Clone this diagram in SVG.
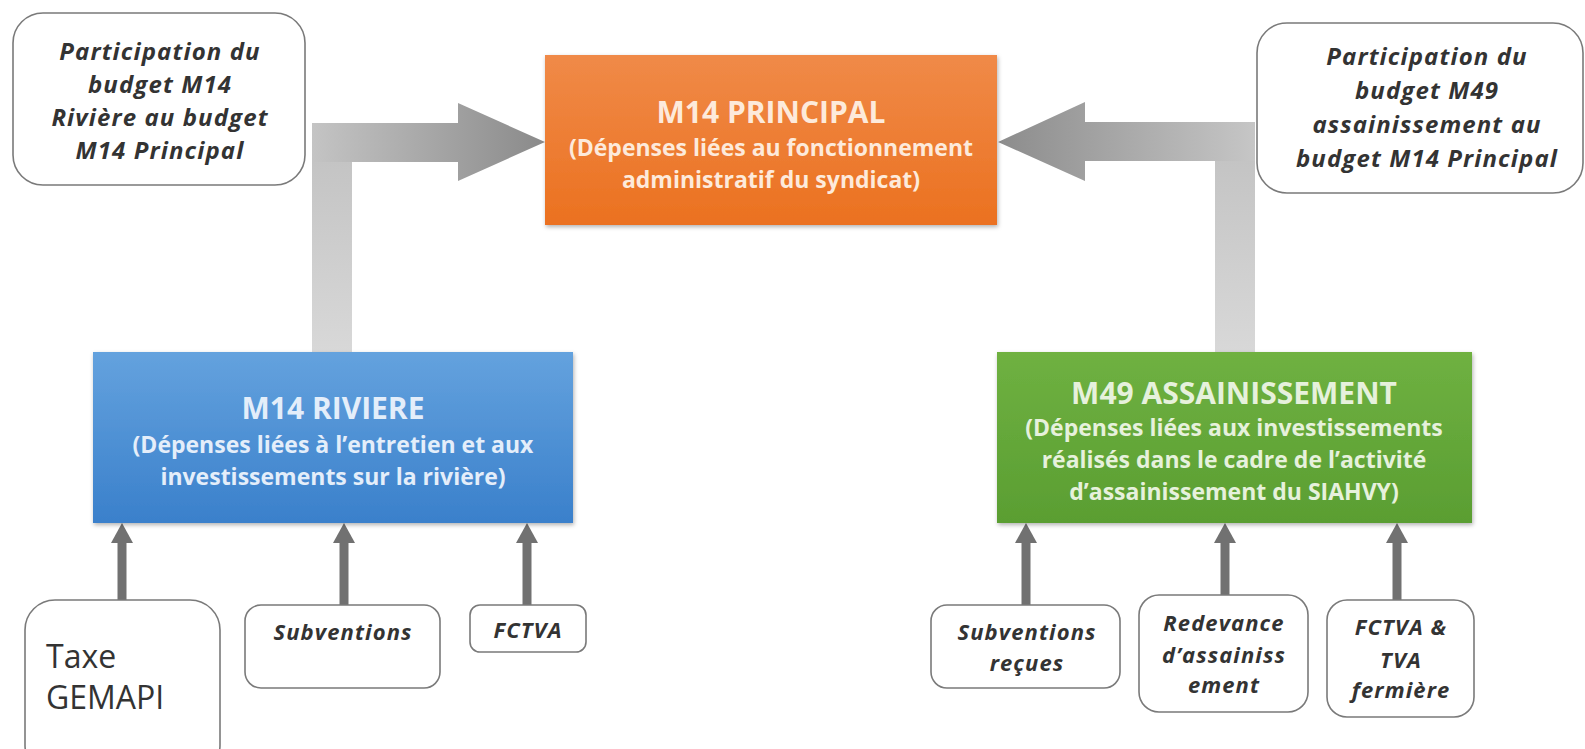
<svg xmlns="http://www.w3.org/2000/svg" width="1585" height="749" viewBox="0 0 1585 749">
<defs>
<linearGradient id="gOrange" x1="0" y1="0" x2="0" y2="1"><stop offset="0" stop-color="#f08a48"/><stop offset="1" stop-color="#eb7120"/></linearGradient>
<linearGradient id="gBlue" x1="0" y1="0" x2="0" y2="1"><stop offset="0" stop-color="#64a2de"/><stop offset="1" stop-color="#3a80cb"/></linearGradient>
<linearGradient id="gGreen" x1="0" y1="0" x2="0" y2="1"><stop offset="0" stop-color="#6fb141"/><stop offset="1" stop-color="#5a9e32"/></linearGradient>
<linearGradient id="gLeftH" gradientUnits="userSpaceOnUse" x1="312" y1="0" x2="545" y2="0"><stop offset="0" stop-color="#c4c4c4"/><stop offset="1" stop-color="#8a8a8a"/></linearGradient>
<linearGradient id="gRightH" gradientUnits="userSpaceOnUse" x1="1255" y1="0" x2="998" y2="0"><stop offset="0" stop-color="#c6c6c6"/><stop offset="1" stop-color="#8c8c8c"/></linearGradient>
<linearGradient id="gVert" x1="0" y1="0" x2="0" y2="1"><stop offset="0" stop-color="#c0c0c0"/><stop offset="1" stop-color="#d8d8d8"/></linearGradient>
<marker id="arr" viewBox="0 0 20 22" refX="8" refY="11" markerWidth="20" markerHeight="22" markerUnits="userSpaceOnUse" orient="auto"><path d="M0,0 L20,11 L0,22 z" fill="#717171"/></marker>
<filter id="sh" x="-5%" y="-5%" width="110%" height="115%"><feDropShadow dx="1" dy="2" stdDeviation="2" flood-color="#000" flood-opacity="0.3"/></filter>
</defs>
<style>
.note{fill:#fff;stroke:#7a7a7a;stroke-width:1.6}
.nt{font-family:"Open Sans","Noto Sans",sans-serif;font-weight:bold;font-style:italic;font-size:24px;letter-spacing:1.1px;fill:#333;text-anchor:middle}
.ns{font-size:22px;letter-spacing:1.1px}
.tt{font-family:"Open Sans","Noto Sans",sans-serif;font-weight:bold;font-size:30px;text-anchor:middle}
.st{font-family:"Open Sans","Noto Sans",sans-serif;font-weight:bold;font-size:23px;text-anchor:middle}
.lo{fill:#fdeadb}.lb{fill:#e4eefa}.lg{fill:#e6f1dc}
.small{stroke:#717171;stroke-width:9;fill:none}
.rg{font-family:"Open Sans","Noto Sans",sans-serif;font-size:32px;fill:#333}
</style>
<rect width="1585" height="749" fill="#fff"/>
<g id="connectors">
<rect x="312" y="123" width="40" height="229" fill="url(#gVert)"/>
<path d="M312,123 L458,123 L458,103 L545,142 L458,181 L458,162 L312,162 z" fill="url(#gLeftH)"/>
<rect x="1215" y="122" width="40" height="230" fill="url(#gVert)"/>
<path d="M1255,122 L1085,122 L1085,102 L998,142 L1085,181 L1085,161 L1255,161 z" fill="url(#gRightH)"/>
<line class="small" x1="122" y1="600" x2="122" y2="535" marker-end="url(#arr)"/>
<line class="small" x1="344" y1="605" x2="344" y2="535" marker-end="url(#arr)"/>
<line class="small" x1="527" y1="605" x2="527" y2="535" marker-end="url(#arr)"/>
<line class="small" x1="1026" y1="605" x2="1026" y2="535" marker-end="url(#arr)"/>
<line class="small" x1="1225" y1="595" x2="1225" y2="535" marker-end="url(#arr)"/>
<line class="small" x1="1397" y1="600" x2="1397" y2="535" marker-end="url(#arr)"/>
</g>
<g id="note-m14-participation">
<rect class="note" x="13" y="13" width="292" height="172" rx="30"/>
<text class="nt" x="160" y="60">Participation du</text>
<text class="nt" x="160" y="93">budget M14</text>
<text class="nt" x="160" y="126">Rivière au budget</text>
<text class="nt" x="160" y="159">M14 Principal</text>
</g>
<g id="note-m49-participation">
<rect class="note" x="1257" y="23" width="326" height="170" rx="30"/>
<text class="nt" x="1427" y="65">Participation du</text>
<text class="nt" x="1427" y="99">budget M49</text>
<text class="nt" x="1427" y="133">assainissement au</text>
<text class="nt" x="1427" y="167">budget M14 Principal</text>
</g>
<g id="m14-principal">
<rect x="545" y="55" width="452" height="170" fill="url(#gOrange)" filter="url(#sh)"/>
<text class="tt lo" x="771" y="123">M14 PRINCIPAL</text>
<text class="st lo" x="771" y="156">(Dépenses liées au fonctionnement</text>
<text class="st lo" x="771" y="188">administratif du syndicat)</text>
</g>
<g id="m14-riviere">
<rect x="93" y="352" width="480" height="171" fill="url(#gBlue)" filter="url(#sh)"/>
<text class="tt lb" x="333" y="419">M14 RIVIERE</text>
<text class="st lb" x="333" y="453">(Dépenses liées à l’entretien et aux</text>
<text class="st lb" x="333" y="485">investissements sur la rivière)</text>
</g>
<g id="m49-assainissement">
<rect x="997" y="352" width="475" height="171" fill="url(#gGreen)" filter="url(#sh)"/>
<text class="tt lg" x="1234" y="404">M49 ASSAINISSEMENT</text>
<text class="st lg" x="1234" y="436">(Dépenses liées aux investissements</text>
<text class="st lg" x="1234" y="468">réalisés dans le cadre de l’activité</text>
<text class="st lg" x="1234" y="500">d’assainissement du SIAHVY)</text>
</g>
<g id="taxe-gemapi">
<rect class="note" x="25" y="600" width="195" height="175" rx="30"/>
<text class="rg" x="46" y="668">Taxe</text>
<text class="rg" x="46" y="709">GEMAPI</text>
</g>
<g id="subventions">
<rect class="note" x="245" y="605" width="195" height="83" rx="16"/>
<text class="nt ns" x="343" y="640">Subventions</text>
</g>
<g id="fctva">
<rect class="note" x="470" y="605" width="116" height="47" rx="10"/>
<text class="nt ns" x="528" y="638">FCTVA</text>
</g>
<g id="subventions-recues">
<rect class="note" x="931" y="605" width="189" height="83" rx="16"/>
<text class="nt ns" x="1027" y="640">Subventions</text>
<text class="nt ns" x="1027" y="671">reçues</text>
</g>
<g id="redevance">
<rect class="note" x="1139" y="595" width="169" height="117" rx="20"/>
<text class="nt ns" x="1224" y="631">Redevance</text>
<text class="nt ns" x="1224" y="663">d’assainiss</text>
<text class="nt ns" x="1224" y="693">ement</text>
</g>
<g id="fctva-tva">
<rect class="note" x="1327" y="600" width="147" height="117" rx="20"/>
<text class="nt ns" x="1401" y="635">FCTVA &amp;</text>
<text class="nt ns" x="1401" y="668">TVA</text>
<text class="nt ns" x="1401" y="698">fermière</text>
</g>
</svg>
